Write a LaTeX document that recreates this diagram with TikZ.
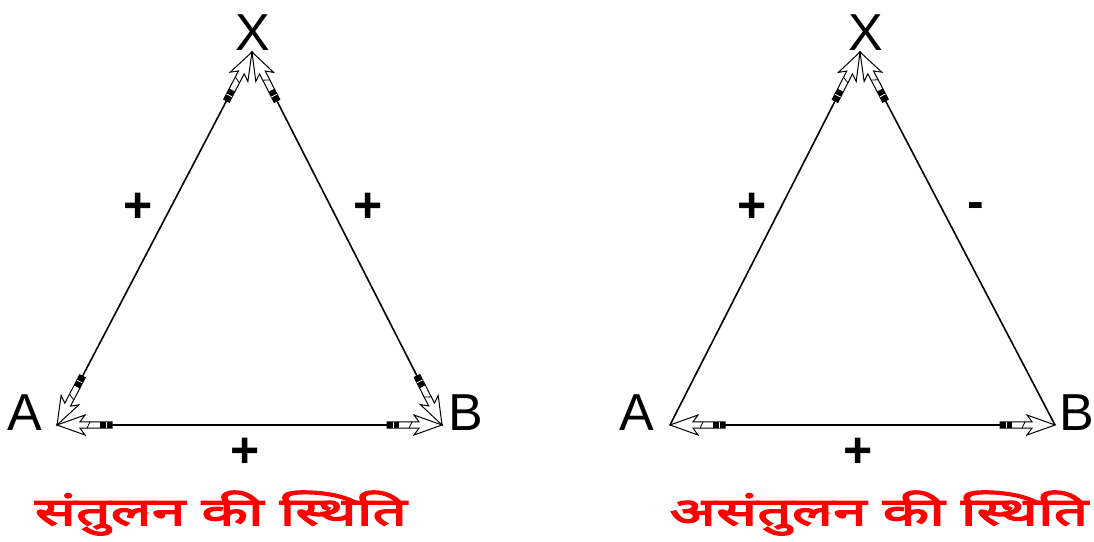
\documentclass[tikz,border=0pt]{standalone}
\usepackage{fontspec}
\setmainfont{Liberation Sans}
\newfontfamily\devfont[Script=Devanagari, FakeBold=4, FakeStretch=1.6]{Noto Sans}
\begin{document}
\begin{tikzpicture}[x=1pt,y=-1pt,
  edge/.style={line width=1.6pt},
  base/.style={line width=2pt},
  lbl/.style={font=\fontsize{52}{52}\selectfont, inner sep=0pt},
  sgn/.style={font=\bfseries\fontsize{50}{50}\selectfont, inner sep=0pt},
  title/.style={font=\devfont\fontsize{38}{42}\selectfont, text=red, inner sep=0pt, anchor=base},
  harrow/.pic={
    \filldraw[fill=white, draw=black, line width=1pt]
      (0,0) -- (-28,10) -- (-23,3.2) -- (-55,3.2) -- (-55,-3.2) -- (-23,-3.2) -- (-28,-10) -- cycle;
    \fill[black] (-55,-3.2) rectangle (-43,3.2);
    \draw[white, line width=0.8pt] (-49,-3.2) -- (-49,3.2);
    \draw[black, line width=0.8pt] (-30,-3.2) -- (-33,3.2);
  }
]
\useasboundingbox (0,0) rectangle (1094,541);

% ---- left triangle
\coordinate (LA) at (57,425);
\coordinate (LB) at (442,425);
\coordinate (LX) at (252,52);
\node[lbl] (tLX) at (253,33) {X};
\node[lbl] (tLA) at (25,413) {A};
\node[lbl] (tLB) at (466,413) {B};
\draw[edge] (LA) -- (LX)
  pic[pos=0, sloped, allow upside down, rotate=180] {harrow}
  pic[pos=1, sloped, allow upside down] {harrow};
\draw[edge] (LB) -- (LX)
  pic[pos=0, sloped, allow upside down, rotate=180] {harrow}
  pic[pos=1, sloped, allow upside down] {harrow};
\draw[base] (LA) -- (LB)
  pic[pos=0, sloped, allow upside down, rotate=180] {harrow}
  pic[pos=1, sloped, allow upside down] {harrow};
\node[sgn] (pL1) at (138,208) {+};
\node[sgn] (pL2) at (368,208) {+};
\node[sgn] (pL3) at (245,453) {+};
\node[title] (tL) at (221,525) {संतुलन की स्थिति};

% ---- right triangle
\coordinate (RA) at (670,425);
\coordinate (RB) at (1055,425);
\coordinate (RX) at (860,52);
\node[lbl] (tRX) at (866,33) {X};
\node[lbl] (tRA) at (637,413) {A};
\node[lbl] (tRB) at (1077,413) {B};
\draw[edge] (RA) -- (RX)
  pic[pos=1, sloped, allow upside down] {harrow};
\draw[edge] (RB) -- (RX)
  pic[pos=1, sloped, allow upside down] {harrow};
\draw[base] (RA) -- (RB)
  pic[pos=0, sloped, allow upside down, rotate=180] {harrow}
  pic[pos=1, sloped, allow upside down] {harrow};
\node[sgn] (pR1) at (752,208) {+};
\node[sgn] (pR2) at (976,211) {-};
\node[sgn] (pR3) at (858,453) {+};
\node[title] (tR) at (879,525) {असंतुलन की स्थिति};
\end{tikzpicture}
\end{document}
